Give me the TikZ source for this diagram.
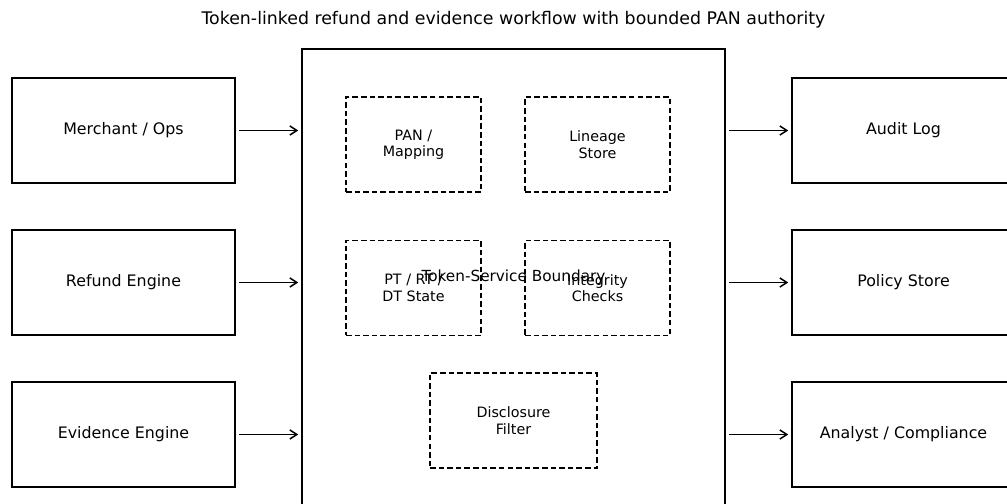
\documentclass[tikz,border=0pt]{standalone}
\usepackage{fontspec}
\setmainfont{DejaVu Sans}
\usetikzlibrary{positioning,arrows.meta}

\tikzset{
  sidebox/.style={draw, line width=1.4pt, inner sep=0pt, minimum width=160.6pt, minimum height=75.6pt, font=\fontsize{11.4}{13}\selectfont},
  boundbox/.style={draw, line width=1.4pt, inner sep=0pt, minimum width=304.6pt, minimum height=328.3pt, font=\fontsize{11}{13}\selectfont},
  partbox/.style={draw, dash pattern=on 4pt off 2.2pt, line width=1.2pt, inner sep=0pt, minimum height=68.4pt, align=center, font=\fontsize{10.3}{11.8}\selectfont},
  flow/.style={line width=1.1pt, -{Straight Barb[length=5pt,width=6.5pt]}, shorten <=2pt, shorten >=2pt}
}

\begin{document}
\begin{tikzpicture}[x=0.72pt, y=-0.72pt]
\useasboundingbox (0,0) rectangle (1007,504);
\clip (0,0) rectangle (1007,504);

\node[font=\fontsize{12.5}{14}\selectfont] (title) at (513.5,20) {Token-linked refund and evidence workflow with bounded PAN authority};

\node[boundbox] (bound) at (513.5,277) {Token-Service Boundary};

\node[partbox, minimum width=97.2pt] (pan) at (413.5,144.5) {PAN /\\Mapping};
\node[partbox, minimum width=104.4pt] (lineage) at (597.5,144.5) {Lineage\\Store};
\node[partbox, minimum width=97.2pt] (state) at (413.5,288) {PT / RT /\\DT State};
\node[partbox, minimum width=104.4pt] (checks) at (597.5,288) {Integrity\\Checks};
\node[partbox, minimum width=120.2pt] (filter) at (513.5,420.5) {Disclosure\\Filter};

\node[sidebox] (merchant) at (123.5,130.5) {Merchant / Ops};
\node[sidebox] (refund) at (123.5,282.5) {Refund Engine};
\node[sidebox] (evidence) at (123.5,434.5) {Evidence Engine};

\node[sidebox] (audit) at (903.5,130.5) {Audit Log};
\node[sidebox] (policy) at (903.5,282.5) {Policy Store};
\node[sidebox] (analyst) at (903.5,434.5) {Analyst / Compliance};

\draw[flow] (merchant.east) -- (merchant.east -| bound.west);
\draw[flow] (refund.east) -- (refund.east -| bound.west);
\draw[flow] (evidence.east) -- (evidence.east -| bound.west);
\draw[flow] (audit.west -| bound.east) -- (audit.west);
\draw[flow] (policy.west -| bound.east) -- (policy.west);
\draw[flow] (analyst.west -| bound.east) -- (analyst.west);
\end{tikzpicture}
\end{document}
